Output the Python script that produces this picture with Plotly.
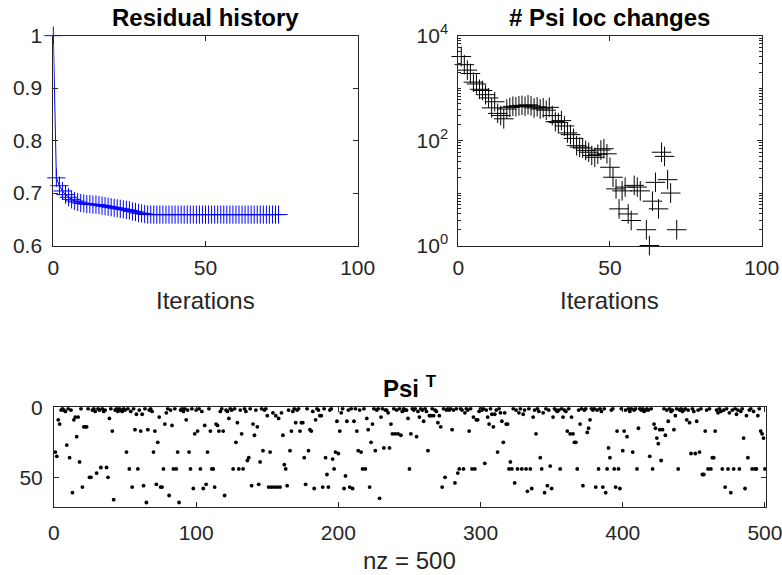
import plotly.graph_objects as go

# ---------------- data ----------------
res_iter = list(range(0, 75))
residual = [1.0, 0.729, 0.714, 0.704, 0.697, 0.692, 0.688, 0.685, 0.683, 0.681,
            0.680, 0.679, 0.679, 0.678, 0.678, 0.677, 0.676, 0.675, 0.674, 0.673,
            0.672, 0.671, 0.670, 0.669, 0.668, 0.667, 0.665, 0.664, 0.662, 0.661,
            0.660, 0.659, 0.659, 0.659, 0.659, 0.659, 0.659, 0.659, 0.659, 0.659,
            0.659, 0.659, 0.659, 0.659, 0.659, 0.659, 0.659, 0.659, 0.659, 0.659,
            0.659, 0.659, 0.659, 0.659, 0.659, 0.659, 0.659, 0.659, 0.659, 0.659,
            0.659, 0.659, 0.659, 0.659, 0.659, 0.659, 0.659, 0.659, 0.659, 0.659,
            0.659, 0.659, 0.659, 0.659, 0.659]

chg_iter = list(range(1, 73))
loc_changes = [4000, 2800, 2200, 1900, 1300, 1200, 950, 900, 750, 650,
               420, 550, 330, 300, 260, 400, 430, 450, 440, 460,
               470, 450, 480, 460, 420, 440, 400, 420, 380, 430,
               300, 230, 220, 240, 190, 140, 130, 110, 80, 75,
               72, 65, 60, 52, 48, 55, 66, 70, 56, 31,
               20, 12, 5, 11, 13, 4, 3, 14, 13, 11,
               0, 2, 1, 7, 16, 5, 60, 50, 18, 10,
               0, 2]

# row index of the single nonzero in each column 1..500 of Psi^T
psi_rows = [
    32, 35, 9, 12, 2, 1, 2, 3, 27, 1,
    36, 2, 61, 9, 7, 21, 7, 39, 1, 57,
    14, 14, 14, 1, 50, 50, 2, 1, 3, 47,
    1, 2, 43, 1, 3, 2, 43, 50, 8, 1,
    17, 66, 2, 1, 3, 1, 2, 3, 1, 2,
    32, 1, 44, 3, 57, 1, 16, 5, 44, 2,
    17, 5, 56, 1, 68, 16, 2, 1, 3, 32,
    17, 55, 25, 7, 57, 57, 44, 12, 4, 1,
    63, 2, 13, 44, 1, 44, 32, 68, 2, 1,
    3, 1, 9, 2, 32, 44, 1, 58, 19, 2,
    17, 1, 44, 3, 58, 13, 55, 32, 1, 17,
    44, 44, 57, 12, 13, 17, 3, 1, 17, 63,
    2, 3, 8, 1, 2, 44, 1, 25, 11, 44,
    2, 19, 44, 1, 3, 38, 36, 1, 56, 12,
    20, 2, 14, 55, 39, 1, 31, 2, 1, 6,
    57, 32, 57, 4, 57, 6, 57, 8, 57, 4,
    20, 41, 44, 56, 2, 31, 17, 3, 1, 11,
    2, 1, 17, 11, 11, 36, 55, 1, 31, 16,
    17, 3, 58, 9, 1, 2, 6, 6, 57, 1,
    36, 48, 57, 2, 1, 37, 44, 32, 10, 33,
    17, 4, 1, 58, 49, 10, 2, 57, 1, 58,
    10, 1, 17, 31, 2, 32, 44, 1, 44, 8,
    16, 57, 25, 12, 1, 31, 2, 1, 65, 7,
    1, 29, 2, 2, 4, 29, 12, 19, 1, 19,
    2, 19, 1, 20, 3, 1, 2, 2, 8, 44,
    19, 1, 2, 1, 21, 3, 7, 1, 2, 10,
    1, 3, 31, 6, 6, 1, 6, 2, 3, 11,
    6, 14, 57, 1, 50, 2, 1, 2, 1, 16,
    2, 54, 1, 47, 44, 1, 2, 44, 4, 1,
    2, 17, 1, 44, 7, 44, 9, 9, 3, 1,
    2, 1, 40, 2, 7, 12, 1, 5, 14, 5,
    2, 32, 1, 4, 10, 25, 4, 12, 12, 44,
    39, 44, 1, 54, 2, 44, 4, 1, 44, 5,
    2, 44, 60, 1, 44, 58, 7, 2, 19, 1,
    3, 36, 44, 4, 61, 1, 56, 2, 42, 58,
    7, 1, 2, 3, 2, 44, 1, 7, 2, 3,
    17, 1, 19, 7, 19, 25, 25, 44, 2, 12,
    1, 56, 2, 1, 18, 15, 9, 1, 2, 1,
    57, 2, 44, 1, 3, 57, 1, 61, 44, 29,
    36, 2, 1, 44, 57, 17, 44, 58, 1, 31,
    17, 2, 21, 1, 3, 1, 32, 2, 1, 44,
    15, 1, 2, 1, 3, 2, 1, 2, 35, 1,
    44, 12, 15, 22, 26, 16, 38, 16, 1, 20,
    2, 10, 1, 3, 2, 16, 6, 1, 44, 2,
    1, 3, 2, 1, 9, 2, 11, 33, 1, 3,
    33, 10, 2, 32, 1, 48, 48, 17, 2, 44,
    1, 44, 36, 36, 17, 2, 4, 1, 3, 44,
    2, 57, 1, 44, 4, 61, 2, 44, 1, 5,
    2, 44, 3, 1, 22, 58, 6, 36, 2, 1,
    44, 3, 44, 44, 6, 1, 17, 19, 22, 44,
]
psi_cols = list(range(1, len(psi_rows) + 1))
nz_label = "nz = 500"

# ---------------- styling ----------------
FONT = "Liberation Sans"
AX = "#262626"
TICK = 21
LAB = 24


def axis(**kw):
    d = dict(showline=True, linecolor=AX, linewidth=1, mirror="allticks",
             ticks="inside", ticklen=5, tickcolor=AX, tickwidth=1,
             showgrid=False, zeroline=False, automargin=False,
             ticklabeloverflow="allow",
             tickfont=dict(family=FONT, size=TICK, color=AX))
    d.update(kw)
    return d


fig = go.Figure()

fig.add_trace(go.Scatter(
    x=res_iter, y=residual, mode="lines+markers",
    line=dict(color="#0000ff", width=1),
    marker=dict(symbol="cross-thin", size=13, line=dict(color="#0000ff", width=1)),
    xaxis="x", yaxis="y", showlegend=False, cliponaxis=False))

fig.add_trace(go.Scatter(
    x=chg_iter, y=loc_changes, mode="markers",
    marker=dict(symbol="cross-thin", size=14, line=dict(color="#000000", width=1)),
    xaxis="x2", yaxis="y2", showlegend=False, cliponaxis=False))

fig.add_trace(go.Scatter(
    x=psi_cols, y=psi_rows, mode="markers",
    marker=dict(symbol="circle", size=3.8, color="#000000"),
    xaxis="x3", yaxis="y3", showlegend=False))

minor_vals = [m * 10 ** k for k in range(0, 4) for m in range(2, 10)] + [10, 1000]

fig.update_layout(
    width=782, height=575,
    margin=dict(l=0, r=0, t=0, b=0, autoexpand=False),
    paper_bgcolor="white", plot_bgcolor="white",
    font=dict(family=FONT, color=AX),
    xaxis=axis(domain=[0.0682, 0.4574], anchor="y", range=[0, 100],
               tickvals=[0, 50, 100], ticklabelstandoff=3),
    yaxis=axis(domain=[0.573, 0.938], anchor="x", range=[0.6, 1.0],
               tickvals=[0.6, 0.7, 0.8, 0.9, 1.0],
               ticktext=["0.6", "0.7", "0.8", "0.9", "1"], ticklabelstandoff=6),
    xaxis2=axis(domain=[0.586, 0.974], anchor="y2", range=[0, 100],
                tickvals=[0, 50, 100], ticklabelstandoff=3),
    yaxis2=axis(domain=[0.573, 0.938], anchor="x2", type="log", range=[0, 4],
                tickvals=[1, 100, 10000],
                ticktext=["10<sup>0</sup>", "10<sup>2</sup>", "10<sup>4</sup>"],
                ticklabelstandoff=5,
                minor=dict(tickmode="array", tickvals=minor_vals, ticks="inside",
                           ticklen=3, tickcolor=AX, showgrid=False)),
    xaxis3=axis(domain=[0.069, 0.980], anchor="y3", range=[0, 501],
                tickvals=[0, 100, 200, 300, 400, 500], ticklabelstandoff=7),
    yaxis3=axis(domain=[0.1188, 0.2917], anchor="x3", range=[71, 0],
                tickvals=[0, 50], ticklabelstandoff=6),
)

ann = [
    dict(text="<b>Residual history</b>", x=0.2628, y=1 - 17 / 575, size=LAB, color="#000000"),
    dict(text="<b># Psi loc changes</b>", x=0.780, y=1 - 17 / 575, size=LAB, color="#000000"),
    dict(text="Iterations", x=0.2628, y=1 - 300 / 575, size=LAB, color=AX),
    dict(text="Iterations", x=0.780, y=1 - 300 / 575, size=LAB, color=AX),
    dict(text="<b>Psi <sup>T</sup></b>", x=0.524, y=1 - 387 / 575, size=LAB, color="#000000"),
    dict(text=nz_label, x=0.524, y=1 - 560 / 575, size=LAB, color=AX),
]
for a in ann:
    fig.add_annotation(text=a["text"], x=a["x"], y=a["y"], xref="paper", yref="paper",
                       xanchor="center", yanchor="middle", showarrow=False,
                       font=dict(family=FONT, size=a["size"], color=a["color"]))

fig.write_html("out.html",
               config={"displayModeBar": False},
               post_script="document.body.style.margin='0';"
                           "document.body.style.overflow='hidden';")
